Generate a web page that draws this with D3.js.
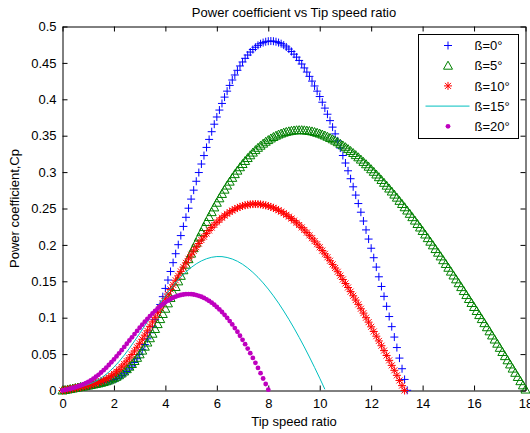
<!DOCTYPE html>
<html>
<head>
<meta charset="utf-8">
<script src="https://cdn.jsdelivr.net/npm/d3@7"></script>
<style>
    html, body { margin: 0; padding: 0; background: #fff; }
    svg { display: block; font-family: "Liberation Sans", Arial, sans-serif; }
    .tick text { font-size: 13px; fill: #000; }
    .domain, .tick line { stroke: #000; }
</style>
</head>
<body>
<div id="chart"></div>
<script>
/* ============================================================
   DATA — Cp vs tip speed ratio, one array per pitch angle
============================================================ */

const PITCH_LABELS = ["ß=0°", "ß=5°", "ß=10°", "ß=15°", "ß=20°"];

const X_TICKS = [0, 2, 4, 6, 8, 10, 12, 14, 16, 18];
const X_TICK_LABELS = ["0", "2", "4", "6", "8", "10", "12", "14", "16", "18"];
const Y_TICKS = [0, 0.05, 0.1, 0.15, 0.2, 0.25, 0.3, 0.35, 0.4, 0.45, 0.5];
const Y_TICK_LABELS = ["0", "0.05", "0.1", "0.15", "0.2", "0.25", "0.3", "0.35", "0.4", "0.45", "0.5"];

// first tip speed ratio of each series and its sampling step
const TSR_START = [0.1, 0, 0, 0, 0];
const TSR_STEP = [0.1, 0.1, 0.1, 0.2, 0.1];

const CP_BETA0 = [
    0.0007, 0.0014, 0.0020, 0.0027, 0.0034, 0.0041, 0.0048, 0.0054, 0.0061, 0.0068,
    0.0075, 0.0082, 0.0088, 0.0095, 0.0102, 0.0110, 0.0119, 0.0128, 0.0138, 0.0151,
    0.0165, 0.0183, 0.0205, 0.0230, 0.0261, 0.0296, 0.0337, 0.0384, 0.0436, 0.0495,
    0.0561, 0.0632, 0.0710, 0.0793, 0.0882, 0.0977, 0.1077, 0.1181, 0.1289, 0.1402,
    0.1517, 0.1635, 0.1756, 0.1879, 0.2003, 0.2128, 0.2254, 0.2379, 0.2504, 0.2629,
    0.2752, 0.2874, 0.2994, 0.3111, 0.3227, 0.3339, 0.3449, 0.3555, 0.3658, 0.3757,
    0.3852, 0.3943, 0.4030, 0.4112, 0.4191, 0.4265, 0.4334, 0.4398, 0.4458, 0.4513,
    0.4563, 0.4608, 0.4649, 0.4684, 0.4715, 0.4741, 0.4763, 0.4779, 0.4791, 0.4798,
    0.4800, 0.4798, 0.4791, 0.4779, 0.4764, 0.4744, 0.4719, 0.4690, 0.4657, 0.4620,
    0.4579, 0.4534, 0.4485, 0.4431, 0.4374, 0.4315, 0.4250, 0.4183, 0.4112, 0.4038,
    0.3960, 0.3879, 0.3795, 0.3707, 0.3618, 0.3525, 0.3429, 0.3330, 0.3228, 0.3125,
    0.3018, 0.2909, 0.2798, 0.2684, 0.2568, 0.2449, 0.2328, 0.2206, 0.2080, 0.1954,
    0.1824, 0.1695, 0.1562, 0.1429, 0.1293, 0.1156, 0.1016, 0.0877, 0.0734, 0.0590,
    0.0445, 0.0299, 0.0152, 0.0003
];

const CP_BETA5 = [
    0.0000, 0.0007, 0.0014, 0.0020, 0.0027, 0.0034, 0.0041, 0.0048, 0.0054, 0.0061,
    0.0068, 0.0075, 0.0083, 0.0090, 0.0098, 0.0106, 0.0116, 0.0127, 0.0139, 0.0154,
    0.0170, 0.0189, 0.0210, 0.0235, 0.0262, 0.0293, 0.0327, 0.0364, 0.0405, 0.0449,
    0.0497, 0.0548, 0.0602, 0.0659, 0.0718, 0.0780, 0.0845, 0.0912, 0.0981, 0.1051,
    0.1123, 0.1197, 0.1271, 0.1346, 0.1422, 0.1499, 0.1575, 0.1652, 0.1728, 0.1804,
    0.1880, 0.1955, 0.2029, 0.2102, 0.2174, 0.2245, 0.2315, 0.2383, 0.2450, 0.2515,
    0.2579, 0.2640, 0.2700, 0.2759, 0.2815, 0.2869, 0.2921, 0.2972, 0.3020, 0.3067,
    0.3111, 0.3153, 0.3193, 0.3231, 0.3268, 0.3302, 0.3334, 0.3363, 0.3391, 0.3417,
    0.3440, 0.3462, 0.3482, 0.3500, 0.3516, 0.3529, 0.3542, 0.3552, 0.3560, 0.3567,
    0.3572, 0.3575, 0.3576, 0.3576, 0.3574, 0.3570, 0.3565, 0.3559, 0.3550, 0.3540,
    0.3529, 0.3516, 0.3502, 0.3486, 0.3469, 0.3451, 0.3432, 0.3411, 0.3389, 0.3366,
    0.3342, 0.3316, 0.3290, 0.3262, 0.3233, 0.3203, 0.3172, 0.3140, 0.3108, 0.3074,
    0.3039, 0.3004, 0.2967, 0.2930, 0.2892, 0.2853, 0.2814, 0.2774, 0.2733, 0.2691,
    0.2649, 0.2605, 0.2562, 0.2517, 0.2472, 0.2427, 0.2381, 0.2334, 0.2287, 0.2239,
    0.2191, 0.2143, 0.2093, 0.2044, 0.1994, 0.1943, 0.1893, 0.1842, 0.1790, 0.1738,
    0.1686, 0.1633, 0.1580, 0.1527, 0.1474, 0.1420, 0.1366, 0.1311, 0.1257, 0.1202,
    0.1147, 0.1092, 0.1036, 0.0981, 0.0925, 0.0869, 0.0813, 0.0756, 0.0700, 0.0643,
    0.0586, 0.0529, 0.0472, 0.0415, 0.0358, 0.0301, 0.0243, 0.0186, 0.0128, 0.0071,
    0.0013
];

const CP_BETA10 = [
    0.0000, 0.0007, 0.0014, 0.0020, 0.0027, 0.0034, 0.0041, 0.0048, 0.0054, 0.0062,
    0.0070, 0.0079, 0.0089, 0.0099, 0.0111, 0.0125, 0.0141, 0.0159, 0.0180, 0.0203,
    0.0229, 0.0258, 0.0290, 0.0325, 0.0363, 0.0403, 0.0447, 0.0494, 0.0543, 0.0594,
    0.0648, 0.0704, 0.0761, 0.0820, 0.0881, 0.0943, 0.1005, 0.1069, 0.1132, 0.1197,
    0.1261, 0.1325, 0.1388, 0.1451, 0.1514, 0.1575, 0.1636, 0.1695, 0.1753, 0.1809,
    0.1864, 0.1918, 0.1969, 0.2019, 0.2067, 0.2112, 0.2156, 0.2198, 0.2238, 0.2275,
    0.2310, 0.2342, 0.2373, 0.2401, 0.2427, 0.2451, 0.2472, 0.2491, 0.2508, 0.2522,
    0.2535, 0.2544, 0.2552, 0.2557, 0.2560, 0.2561, 0.2560, 0.2557, 0.2551, 0.2543,
    0.2534, 0.2522, 0.2509, 0.2494, 0.2476, 0.2457, 0.2436, 0.2413, 0.2388, 0.2362,
    0.2334, 0.2304, 0.2273, 0.2240, 0.2205, 0.2169, 0.2131, 0.2092, 0.2052, 0.2010,
    0.1967, 0.1922, 0.1877, 0.1830, 0.1782, 0.1732, 0.1683, 0.1631, 0.1578, 0.1525,
    0.1470, 0.1415, 0.1358, 0.1301, 0.1242, 0.1183, 0.1123, 0.1063, 0.1000, 0.0939,
    0.0875, 0.0811, 0.0746, 0.0681, 0.0615, 0.0548, 0.0481, 0.0414, 0.0345, 0.0277,
    0.0208, 0.0138, 0.0067, 0.0000
];

const CP_BETA15 = [
    0.0000, 0.0014, 0.0027, 0.0043, 0.0061, 0.0083, 0.0112, 0.0149, 0.0196, 0.0253,
    0.0321, 0.0398, 0.0485, 0.0579, 0.0680, 0.0784, 0.0890, 0.0997, 0.1103, 0.1206,
    0.1304, 0.1396, 0.1482, 0.1560, 0.1629, 0.1689, 0.1740, 0.1780, 0.1810, 0.1830,
    0.1840, 0.1839, 0.1827, 0.1806, 0.1775, 0.1734, 0.1683, 0.1623, 0.1555, 0.1478,
    0.1393, 0.1300, 0.1200, 0.1092, 0.0978, 0.0857, 0.0730, 0.0598, 0.0460, 0.0317,
    0.0169, 0.0017
];

const CP_BETA20 = [
    0.0001, 0.0008, 0.0016, 0.0024, 0.0034, 0.0044, 0.0056, 0.0069, 0.0083, 0.0100,
    0.0119, 0.0140, 0.0163, 0.0189, 0.0216, 0.0247, 0.0279, 0.0313, 0.0350, 0.0388,
    0.0427, 0.0468, 0.0511, 0.0554, 0.0598, 0.0642, 0.0687, 0.0731, 0.0775, 0.0819,
    0.0862, 0.0904, 0.0945, 0.0985, 0.1023, 0.1059, 0.1094, 0.1127, 0.1157, 0.1185,
    0.1211, 0.1234, 0.1255, 0.1274, 0.1289, 0.1302, 0.1312, 0.1319, 0.1323, 0.1325,
    0.1323, 0.1319, 0.1311, 0.1301, 0.1288, 0.1271, 0.1252, 0.1230, 0.1206, 0.1178,
    0.1147, 0.1114, 0.1078, 0.1039, 0.0998, 0.0954, 0.0907, 0.0858, 0.0807, 0.0752,
    0.0696, 0.0637, 0.0576, 0.0513, 0.0448, 0.0380, 0.0310, 0.0238, 0.0165, 0.0089,
    0.0011
];

/* ============================================================
   SERIES TABLE (matlab default colour order)
============================================================ */

const CP_VALUES = [CP_BETA0, CP_BETA5, CP_BETA10, CP_BETA15, CP_BETA20];
const COLORS = ["#0000ff", "#008000", "#ff0000", "#00bfbf", "#bf00bf"];
const MARKS = ["plus", "triangle", "star", "line", "dot"];

const MARKER_PATHS = {
    plus: "M-4,0H4M0,-4V4",
    triangle: "M0,-4.5L4.5,3.5H-4.5Z",
    star: "M-4,0H4M0,-4V4M-3,-3L3,3M-3,3L3,-3"
};

const series = CP_VALUES.map((cp, k) => ({
    label: PITCH_LABELS[k],
    color: COLORS[k],
    mark: MARKS[k],
    points: cp.map((v, i) => ({
        tsr: +(TSR_START[k] + i * TSR_STEP[k]).toFixed(2),
        cp: v
    }))
}));

/* ============================================================
   SVG + SCALES
============================================================ */

const W = 530, H = 433;
const margin = { top: 26.5, right: 4.5, bottom: 42.5, left: 62.5 };
const width = W - margin.left - margin.right;
const height = H - margin.top - margin.bottom;

const svg = d3.select("#chart")
    .append("svg")
    .attr("width", W)
    .attr("height", H);

const g = svg.append("g")
    .attr("transform", `translate(${margin.left},${margin.top})`);

const xScale = d3.scaleLinear().domain([0, 18]).range([0, width]);
const yScale = d3.scaleLinear().domain([0, 0.5]).range([height, 0]);

/* ============================================================
   AXES — inward ticks on all four sides, box on
============================================================ */

g.append("g")
    .attr("transform", `translate(0,${height})`)
    .call(d3.axisBottom(xScale)
        .tickValues(X_TICKS)
        .tickFormat((d, i) => X_TICK_LABELS[i])
        .tickSizeInner(-5).tickSizeOuter(0).tickPadding(8));

g.append("g")
    .call(d3.axisTop(xScale)
        .tickValues(X_TICKS)
        .tickFormat("")
        .tickSizeInner(-5).tickSizeOuter(0));

g.append("g")
    .call(d3.axisLeft(yScale)
        .tickValues(Y_TICKS)
        .tickFormat((d, i) => Y_TICK_LABELS[i])
        .tickSizeInner(-5).tickSizeOuter(0).tickPadding(6));

g.append("g")
    .attr("transform", `translate(${width},0)`)
    .call(d3.axisRight(yScale)
        .tickValues(Y_TICKS)
        .tickFormat("")
        .tickSizeInner(-5).tickSizeOuter(0));

svg.append("text")
    .attr("x", margin.left + width / 2)
    .attr("y", 17)
    .attr("text-anchor", "middle")
    .attr("font-size", "13px")
    .text("Power coefficient vs Tip speed ratio");

svg.append("text")
    .attr("x", margin.left + width / 2)
    .attr("y", 426)
    .attr("text-anchor", "middle")
    .attr("font-size", "13px")
    .text("Tip speed ratio");

svg.append("text")
    .attr("transform", `translate(19,${margin.top + height / 2}) rotate(-90)`)
    .attr("text-anchor", "middle")
    .attr("font-size", "13px")
    .text("Power coefficient,Cp");

/* ============================================================
   CURVES
============================================================ */

function drawMarker(sel, mark, color) {
    if (mark === "dot") {
        sel.append("circle")
            .attr("r", 2.4)
            .attr("fill", color);
    } else {
        sel.append("path")
            .attr("d", MARKER_PATHS[mark])
            .attr("fill", "none")
            .attr("stroke", color)
            .attr("stroke-width", 1);
    }
}

series.forEach(s => {
    if (s.mark === "line") {
        g.append("path")
            .datum(s.points)
            .attr("fill", "none")
            .attr("stroke", s.color)
            .attr("stroke-width", 1)
            .attr("d", d3.line()
                .x(d => xScale(d.tsr))
                .y(d => yScale(d.cp)));
        return;
    }
    g.append("g")
        .selectAll("g")
        .data(s.points)
        .join("g")
        .attr("transform", d => `translate(${xScale(d.tsr)},${yScale(d.cp)})`)
        .each(function () { drawMarker(d3.select(this), s.mark, s.color); });
});

/* ============================================================
   LEGEND
============================================================ */

const legend = svg.append("g").attr("transform", "translate(418.5,34.5)");

legend.append("rect")
    .attr("width", 100)
    .attr("height", 104)
    .attr("fill", "#fff")
    .attr("stroke", "#000");

series.forEach((s, i) => {
    const row = legend.append("g")
        .attr("transform", `translate(0,${11 + i * 20.2})`);
    if (s.mark === "line") {
        row.append("line")
            .attr("x1", 7).attr("x2", 51)
            .attr("stroke", s.color);
    } else {
        drawMarker(row.append("g").attr("transform", "translate(29.5,0)"), s.mark, s.color);
    }
    row.append("text")
        .attr("x", 56)
        .attr("dy", "0.36em")
        .attr("font-size", "13px")
        .text(s.label);
});
</script>
</body>
</html>
